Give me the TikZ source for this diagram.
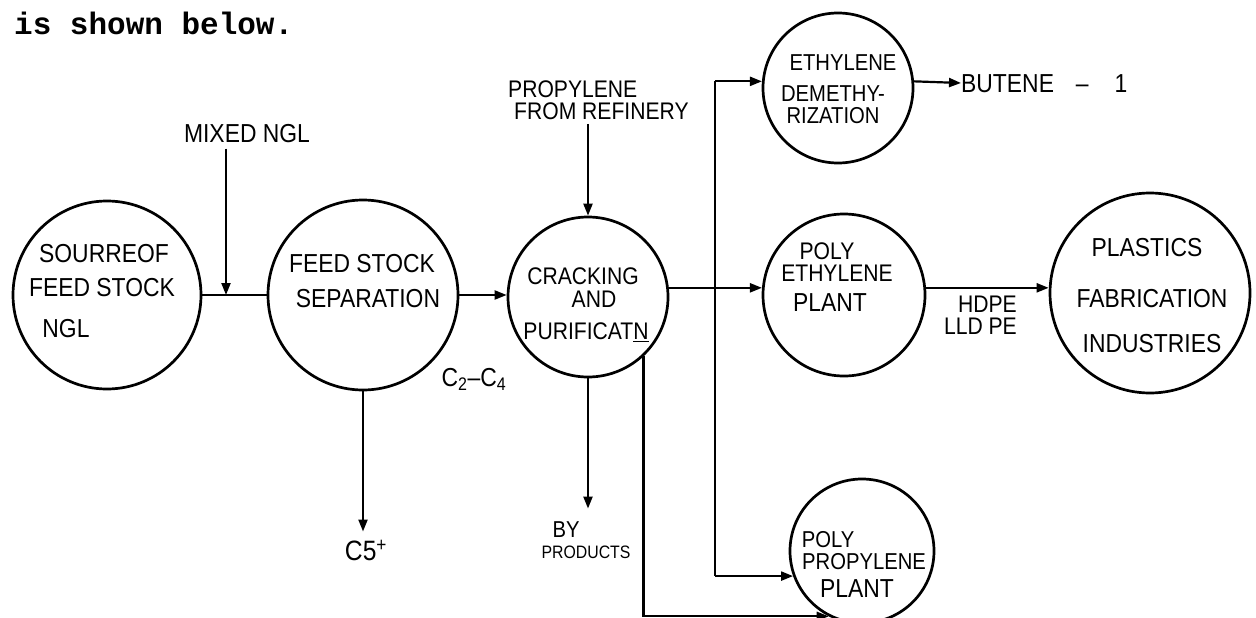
\documentclass[tikz,border=0pt]{standalone}
\usepackage{fontspec}
\setmainfont{Liberation Sans}[FakeStretch=0.88]
\newfontfamily\typew{Liberation Mono}
\usetikzlibrary{arrows.meta}
\begin{document}
\begin{tikzpicture}[x=1pt,y=-1pt,
  unit/.style={circle, draw, line width=2.7pt, inner sep=0pt},
  lbl/.style={font=\fontsize{26}{26}\selectfont, inner sep=0pt, text height=18.6pt, text depth=0pt},
  mid/.style={font=\fontsize{24}{24}\selectfont, inner sep=0pt, text height=17.2pt, text depth=0pt},
  sml/.style={font=\fontsize{23}{23}\selectfont, inner sep=0pt, text height=16.5pt, text depth=0pt},
  tiny/.style={font=\fontsize{18}{18}\selectfont, inner sep=0pt, text height=12.9pt, text depth=0pt},
  flow/.style={line width=2.2pt},
  arr/.style={flow, -{Triangle[length=12pt,width=9pt]}},
]
\useasboundingbox[fill=white] (0,0) rectangle (1256,618);

% header
\node[anchor=base west, inner sep=0pt, font=\typew\bfseries\fontsize{31}{34}\selectfont] (hdr) at (14,35) {is shown below.};

% units
\node[unit, minimum size=188pt] (src) at (107,295) {};
\node[unit, minimum size=190pt] (sep) at (363,295) {};
\node[unit, minimum size=160pt] (crk) at (588,297) {};
\node[unit, minimum size=150pt] (eth) at (838,88) {};
\node[unit, minimum size=162pt] (pe)  at (844,295) {};
\node[unit, minimum size=200pt] (pla) at (1150,293) {};
\node[unit, minimum size=144pt] (pp)  at (862,551) {};

% texts inside units
\node[lbl] (src1) at (104,253) {SOURREOF};
\node[lbl] (src2) at (102,287) {FEED STOCK};
\node[lbl] (src3) at (66,328) {NGL};
\node[lbl] (sep1) at (362,263) {FEED STOCK};
\node[lbl] (sep2) at (368,298) {SEPARATION};
\node[mid] (crk1) at (583,276) {CRACKING};
\node[mid] (crk2) at (594,299) {AND};
\node[mid] (crk3) at (586,331) {PURIFICAT\underline{N}};
\node[sml] (eth1) at (843,62) {ETHYLENE};
\node[sml] (eth2) at (833,93) {DEMETHY-};
\node[sml] (eth3) at (833,115) {RIZATION};
\node[mid] (pe1) at (827,251) {POLY};
\node[mid] (pe2) at (837,273) {ETHYLENE};
\node[lbl] (pe3) at (830,302) {PLANT};
\node[lbl] (pla1) at (1147,247) {PLASTICS};
\node[lbl] (pla2) at (1152,298) {FABRICATION};
\node[lbl] (pla3) at (1152,343) {INDUSTRIES};
\node[sml] (pp1) at (828,539) {POLY};
\node[sml] (pp2) at (864,561) {PROPYLENE};
\node[lbl] (pp3) at (857,588) {PLANT};

% stream labels
\node[lbl] (mix) at (247,133) {MIXED NGL};
\node[mid, anchor=west] (prop1) at (508,89) {PROPYLENE};
\node[mid, anchor=west] (prop2) at (514,111) {FROM REFINERY};
\node[lbl, font=\fontsize{28}{28}\selectfont] (c5) at (366,551) {C5\textsuperscript{+}};
\node[lbl] (c24) at (474,377) {C\textsubscript{2}--C\textsubscript{4}};
\node[sml] (by1) at (566,529) {BY};
\node[tiny] (by2) at (586,552) {PRODUCTS};
\node[lbl, anchor=west] (but) at (961,83) {BUTENE\hspace{22pt}--\hspace{26pt}1};
\node[mid, anchor=east] (hd1) at (1017,304) {HDPE};
\node[mid, anchor=east] (hd2) at (1017,326) {LLD PE};

% connectors
\coordinate (j1) at (226,295);
\coordinate (busx) at (715,300);
\draw[flow] (src) -- (sep);
\draw[arr, shorten <=6pt] (mix.south -| j1) -- (j1);
\draw[arr] (sep.east) -- (sep.east -| crk.west);
\draw[arr, shorten >=10pt] (sep.south) -- (sep.south |- c5.north);
\draw[arr, shorten <=4pt] (crk.north |- prop2.south) -- (crk.north);
\draw[arr, shorten >=12pt] (crk.south) -- (crk.south |- by1.north);
\draw[arr] (crk.east |- pe.175) -- (pe.175);
\draw[flow] (eth.175 -| busx) -- (pp.200 -| busx);
\draw[arr] (eth.175 -| busx) -- (eth.175);
\draw[arr] (pp.200 -| busx) -- (pp.200);
\draw[arr] (eth.5) -- (but.west);
\draw[arr] (pe.5) -- (pe.5 -| pla.west);
\draw[arr] (crk.-47.5) |- (pp.243);
\end{tikzpicture}
\end{document}
